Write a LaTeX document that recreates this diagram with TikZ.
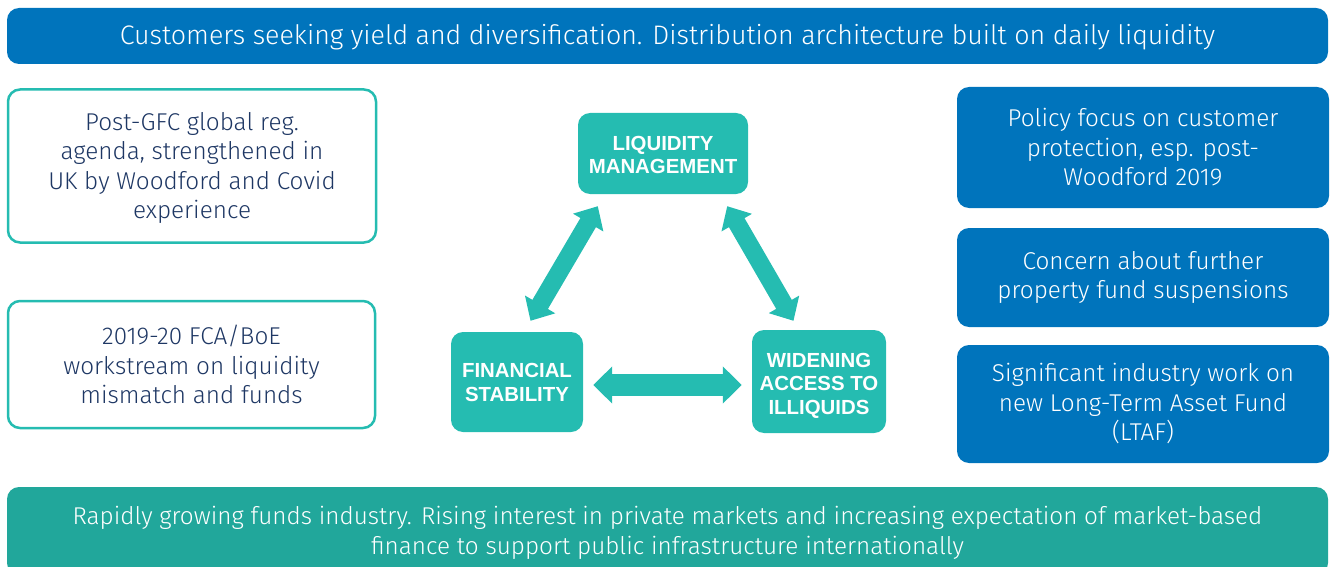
\documentclass[tikz,border=0pt]{standalone}
\usepackage{fontspec}
\setmainfont{Fira Sans}[UprightFont=* Light]
\newfontfamily\boldsans{Liberation Sans}
\usetikzlibrary{arrows.meta,calc}
\definecolor{cblue}{RGB}{0,116,188}
\definecolor{cteal}{RGB}{37,188,177}
\definecolor{cteal2}{RGB}{33,167,155}
\definecolor{cnavy}{RGB}{30,55,100}
% lower a centred multi-line text by #1 without changing its reported size
\newcommand\lowertext[2]{\raisebox{-#1}[\height][\depth]{\begin{tabular}{@{}c@{}}#2\end{tabular}}}
\tikzset{
  bluebox/.style={fill=cblue, rounded corners=12pt, text=white, align=center, inner sep=0pt,
    font=\fontsize{24.3}{29.5}\selectfont},
  outlinebox/.style={draw=cteal, line width=2.5pt, fill=white, rounded corners=12pt, text=cnavy,
    align=center, inner sep=0pt, font=\fontsize{24.3}{29.5}\selectfont},
  corebox/.style={fill=cteal, rounded corners=12pt, text=white, align=center, inner sep=0pt,
    font=\boldsans\bfseries\fontsize{20.4}{23.5}\selectfont},
  diagarrow/.style={draw=cteal, line width=18pt,
    {Triangle[width=34pt,length=19pt]}-{Triangle[width=34pt,length=19pt]}},
  horizarrow/.style={draw=cteal, line width=22pt,
    {Triangle[width=36pt,length=19pt]}-{Triangle[width=36pt,length=19pt]}},
}
\begin{document}
\begin{tikzpicture}[x=1pt,y=-1pt]
\useasboundingbox (0,0) rectangle (1330,567);
\begin{scope}
\clip (0,0) rectangle (1330,567);
% top banner
\node[bluebox, minimum width=1321pt, minimum height=56pt, font=\fontsize{26.8}{30}\selectfont] (top) at (667.5,36)
  {\lowertext{2.5pt}{Customers seeking yield and diversification. Distribution architecture built on daily liquidity}};
% left boxes
\node[outlinebox, minimum width=368pt, minimum height=153pt] (l1) at (192,166)
  {\lowertext{2.5pt}{Post-GFC global reg.\\agenda, strengthened in\\UK by Woodford and Covid\\experience}};
\node[outlinebox, minimum width=367pt, minimum height=127pt] (l2) at (191.5,364.5)
  {2019-20 FCA/BoE\\workstream on liquidity\\mismatch and funds};
% right boxes
\node[bluebox, minimum width=372pt, minimum height=121pt] (r1) at (1143,147.5)
  {Policy focus on customer\\protection, esp. post-\\Woodford 2019};
\node[bluebox, minimum width=372pt, minimum height=99pt] (r2) at (1143,277.5)
  {Concern about further\\property fund suspensions};
\node[bluebox, minimum width=372pt, minimum height=118pt] (r3) at (1143,404)
  {\lowertext{1.5pt}{Significant industry work on\\new Long-Term Asset Fund\\(LTAF)}};
% bottom banner
\node[bluebox, fill=cteal2, minimum width=1321pt, minimum height=88pt] (bot) at (667.5,531)
  {\lowertext{2.5pt}{Rapidly growing funds industry. Rising interest in private markets and increasing expectation of market-based\\finance to support public infrastructure internationally}};
% core triangle
\node[corebox, minimum width=170pt, minimum height=81pt] (lm) at (663,153.5)
  {\lowertext{4pt}{LIQUIDITY\\MANAGEMENT}};
\node[corebox, minimum width=132pt, minimum height=100pt] (fs) at (517,382)
  {\lowertext{3pt}{FINANCIAL\\STABILITY}};
\node[corebox, minimum width=134pt, minimum height=103pt] (wa) at (819,381.5)
  {\lowertext{4.5pt}{WIDENING\\ACCESS TO\\ILLIQUIDS}};
% arrows
\draw[diagarrow] ($(fs.north)+(13.5,-11)$) -- ($(lm.south west)+(20,12)$);
\draw[diagarrow] ($(lm.south east)+(-21,12)$) -- ($(wa.north)+(-25.5,-9)$);
\draw[horizarrow] ($(fs.east)+(10,3)$) -- ($(fs.east -| wa.west)+(-10,3)$);
\end{scope}
\end{tikzpicture}
\end{document}
